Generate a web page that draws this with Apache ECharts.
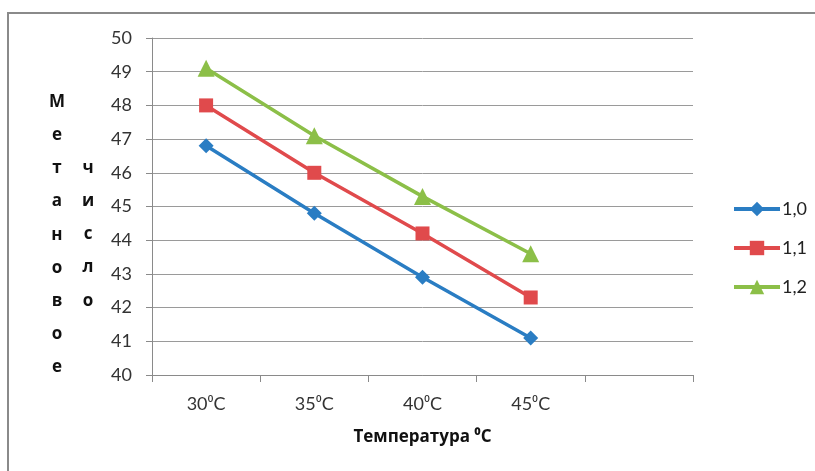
<!DOCTYPE html>
<html>
<head>
<meta charset="utf-8">
<script src="https://cdn.jsdelivr.net/npm/echarts@6/dist/echarts.min.js"></script>
<style>
html,body{margin:0;padding:0;background:#fff;}
#c{width:815px;height:471px;}
</style>
</head>
<body>
<div id="c"></div>
<script>
const categories = ['30⁰C', '35⁰C', '40⁰C', '45⁰C', ''];
const seriesNames = ['1,0', '1,1', '1,2'];
const s10 = [46.8, 44.8, 42.9, 41.1];
const s11 = [48.0, 46.0, 44.2, 42.3];
const s12 = [49.1, 47.1, 45.3, 43.6];
const yTicks = { min: 40, max: 50, interval: 1 };
const xTitle = 'Температура ⁰C';
const yTitleCol1 = ['М','е','т','а','н','о','в','о','е'];
const yTitleCol2 = ['ч','и','с','л','о'];

const FONT = "Lato, 'Noto Sans', sans-serif";
const BOLD = "'Open Sans', 'Noto Sans', sans-serif";
const colors = ['#2a7dc3', '#e04a4c', '#8cbf48'];
const symbols = ['diamond', 'rect', 'triangle'];
const sizes = [15, 14, 17];

const chart = echarts.init(document.getElementById('c'));
const graphics = [
  { type: 'rect', shape: { x: 8, y: 13, width: 830, height: 480 }, style: { fill: 'none', stroke: '#8a8a8a', lineWidth: 2 }, silent: true }
];
yTitleCol1.forEach((ch, i) => graphics.push({
  type: 'text', x: 57, y: 102 + i * 33.2,
  style: { text: ch, font: "bold 17px " + BOLD, fill: '#111', align: 'center', verticalAlign: 'middle' }
}));
yTitleCol2.forEach((ch, i) => graphics.push({
  type: 'text', x: 88, y: 168 + i * 33.2,
  style: { text: ch, font: "bold 17px " + BOLD, fill: '#111', align: 'center', verticalAlign: 'middle' }
}));

chart.setOption({
  animation: false,
  backgroundColor: '#fff',
  graphic: graphics,
  grid: { left: 152, right: 122, top: 38, bottom: 96 },
  legend: {
    orient: 'vertical', left: 727, top: 195,
    itemWidth: 46, itemHeight: 18, itemGap: 21,
    lineStyle: { width: 4 },
    textStyle: { fontFamily: FONT, fontSize: 18, color: '#222', padding: [0,0,0,-3] },
    data: seriesNames
  },
  xAxis: {
    type: 'category', data: categories, boundaryGap: true,
    axisLine: { lineStyle: { color: '#8a8a8a', width: 1 } },
    axisTick: { show: true, length: 7, lineStyle: { color: '#8a8a8a' } },
    axisLabel: { fontFamily: FONT, fontSize: 18, color: '#333', margin: 20 },
    name: xTitle, nameLocation: 'middle', nameGap: 54,
    nameTextStyle: { fontFamily: BOLD, fontSize: 17, fontWeight: 'bold', color: '#111' }
  },
  yAxis: {
    type: 'value', min: yTicks.min, max: yTicks.max, interval: yTicks.interval,
    axisLine: { show: true, lineStyle: { color: '#8a8a8a', width: 1 } },
    axisTick: { show: true, length: 6, lineStyle: { color: '#8a8a8a' } },
    axisLabel: { fontFamily: FONT, fontSize: 18, color: '#333', margin: 20 },
    splitLine: { lineStyle: { color: '#9a9a9a', width: 1 } }
  },
  series: [s10, s11, s12].map((d, i) => ({
    name: seriesNames[i], type: 'line', data: d,
    symbol: symbols[i], symbolSize: sizes[i],
    lineStyle: { color: colors[i], width: 3.5 },
    itemStyle: { color: colors[i] },
    emphasis: { disabled: true }
  }))
});
</script>
</body>
</html>
